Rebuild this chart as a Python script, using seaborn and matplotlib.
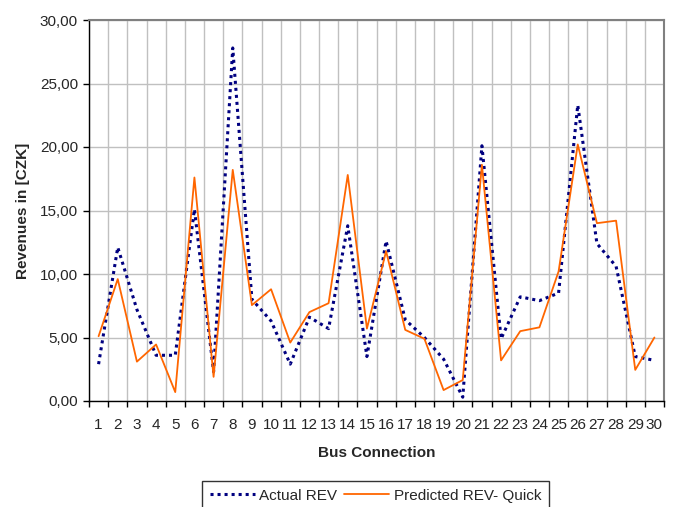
import numpy as np
import pandas as pd
import matplotlib
matplotlib.use("Agg")
import matplotlib.pyplot as plt
import seaborn as sns
from matplotlib.ticker import FuncFormatter, FixedLocator

bus = list(range(1, 31))
actual_rev = [2.9, 12.1, 7.2, 3.6, 3.6, 15.1, 2.3, 27.8, 8.0, 6.3,
              2.9, 6.6, 5.7, 13.8, 3.5, 12.6, 6.4, 5.0, 3.3, 0.3,
              20.1, 4.9, 8.2, 7.9, 8.5, 23.3, 12.4, 10.6, 3.5, 3.2]
predicted_rev = [5.1, 9.6, 3.1, 4.45, 0.7, 17.6, 1.9, 18.2, 7.55, 8.8,
                 4.6, 7.0, 7.7, 17.8, 5.7, 11.8, 5.6, 4.9, 0.86, 1.65,
                 18.6, 3.2, 5.5, 5.8, 10.2, 20.2, 14.0, 14.2, 2.45, 5.0]
y_ticks = [0, 5, 10, 15, 20, 25, 30]

sns.set_theme(style="white")
plt.rcParams['font.family'] = ['Liberation Sans', 'DejaVu Sans']

fig = plt.figure(figsize=(6.74, 5.07), dpi=100)
ax = fig.add_axes([89/674, 1 - 401/507, (664-89)/674, (401-20)/507])

df = pd.DataFrame({"bus": bus, "Actual REV": actual_rev, "Predicted REV- Quick": predicted_rev})

sns.lineplot(data=df, x="bus", y="Actual REV", ax=ax, color="#000080",
             linewidth=2.2, dashes=False, label="Actual REV")
ax.lines[-1].set_linestyle((0, (1, 1.3)))
sns.lineplot(data=df, x="bus", y="Predicted REV- Quick", ax=ax, color="#FF6600",
             linewidth=1.3, label="Predicted REV- Quick")

ax.set_xlim(0.5, 30.5)
ax.set_ylim(0, 30)
ax.set_xticks(bus)
ax.set_xticklabels([str(b) for b in bus], fontsize=11)
ax.xaxis.set_minor_locator(FixedLocator([b + 0.5 for b in range(0, 31)]))
ax.tick_params(axis='x', which='major', length=0, pad=12)
ax.tick_params(axis='x', which='minor', length=4, width=1, color='black', direction='out', bottom=True)
ax.set_yticks(y_ticks)
ax.yaxis.set_major_formatter(FuncFormatter(lambda v, p: f"{v:.2f}".replace('.', ',')))
ax.tick_params(axis='y', which='major', length=4, width=1, color='black', direction='out', left=True, labelsize=11, pad=4)

ax.grid(False)
ax.yaxis.grid(True, color='#c0c0c0', linewidth=1)
ax.xaxis.grid(True, which='minor', color='#c0c0c0', linewidth=1)
ax.set_axisbelow(True)

for s in ['left', 'bottom']:
    ax.spines[s].set_color('black')
    ax.spines[s].set_linewidth(1)
for s in ['top', 'right']:
    ax.spines[s].set_color('#808080')
    ax.spines[s].set_linewidth(1.5)

ax.set_xlabel("Bus Connection", fontsize=11, fontweight='bold', labelpad=10)
ax.set_ylabel("Revenues in [CZK]", fontsize=11, fontweight='bold', labelpad=7)

if ax.legend_:
    ax.legend_.remove()
handles, labels = ax.get_legend_handles_labels()
leg = fig.legend(handles, labels, loc='upper center', bbox_to_anchor=(375.5/674, 1 - 481/507),
                 ncol=2, frameon=True, fancybox=False, fontsize=11, handlelength=2.95,
                 handletextpad=0.28, columnspacing=0.46, borderpad=0.5, borderaxespad=0)
leg.get_frame().set_edgecolor('black')
leg.get_frame().set_linewidth(1)

fig.savefig("out.png", dpi=100)
